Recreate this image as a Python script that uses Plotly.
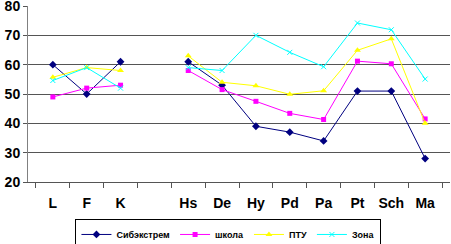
import plotly.graph_objects as go

categories = ["L", "F", "K", " ", "Hs", "De", "Hy", "Pd", "Pa", "Pt", "Sch", "Ma"]
sibextrem = [60, 50, 61, None, 61, 53, 39, 37, 34, 51, 51, 28]
shkola = [49, 52, 53, None, 58, 51.5, 47.5, 43.4, 41.3, 61.2, 60.3, 41.5]
ptu = [55.7, 59, 58, None, 63, 54, 52.8, 49.9, 51.1, 64.9, 68.8, 40]
zona = [54.6, 59, 52, None, 59, 58, 70, 64.2, 59.3, 74.2, 71.9, 55.1]
y_ticks = [20, 30, 40, 50, 60, 70, 80]

series = [
    ("Сибэкстрем", sibextrem, "#000080", "diamond", 6, 0),
    ("школа", shkola, "#FF00FF", "square", 5, 0),
    ("ПТУ", ptu, "#FFFF00", "triangle-up", 6, 0),
    ("Зона", zona, "#00FFFF", "x-thin-open", 5, 1),
]

fig = go.Figure()
for name, vals, color, sym, size, lw in series:
    fig.add_trace(go.Scatter(
        x=categories, y=vals, name=name, mode="lines+markers",
        connectgaps=False,
        line=dict(color=color, width=1),
        marker=dict(symbol=sym, size=size, color=color,
                    line=dict(color=color, width=lw)),
    ))

fig.update_layout(
    width=451, height=244,
    margin=dict(l=28, r=1, t=6, b=62, autoexpand=False),
    paper_bgcolor="white", plot_bgcolor="white",
    font=dict(family="Liberation Sans, Arial, sans-serif", color="black"),
    showlegend=True,
    legend=dict(
        orientation="h", x=0.475, xanchor="center", y=-0.21, yanchor="top",
        bordercolor="black", borderwidth=1, bgcolor="white",
        font=dict(size=9, family="Liberation Sans, Arial, sans-serif", weight="bold"),
        itemwidth=30, tracegroupgap=0, valign="middle",
    ),
)
fig.update_xaxes(
    type="category", categoryorder="array", categoryarray=categories,
    tickson="boundaries", ticks="outside", ticklen=5, tickcolor="#555555",
    showline=True, linecolor="#555555", linewidth=1,
    showgrid=False, ticklabelstandoff=8, tickangle=0, automargin=False,
    tickfont=dict(size=14, weight="bold"),
)
fig.update_yaxes(
    range=[20, 80], tickvals=y_ticks, ticks="outside", ticklen=4,
    tickcolor="#555555", ticklabeloverflow="allow", automargin=False,
    showline=True, linecolor="#808080", linewidth=1,
    showgrid=True, gridcolor="#555555", gridwidth=1,
    zeroline=False,
    tickfont=dict(size=14, weight="bold"),
)
fig.write_html("out.html", config={"displayModeBar": False},
               post_script="document.body.style.margin='0';document.body.style.overflow='hidden';")
